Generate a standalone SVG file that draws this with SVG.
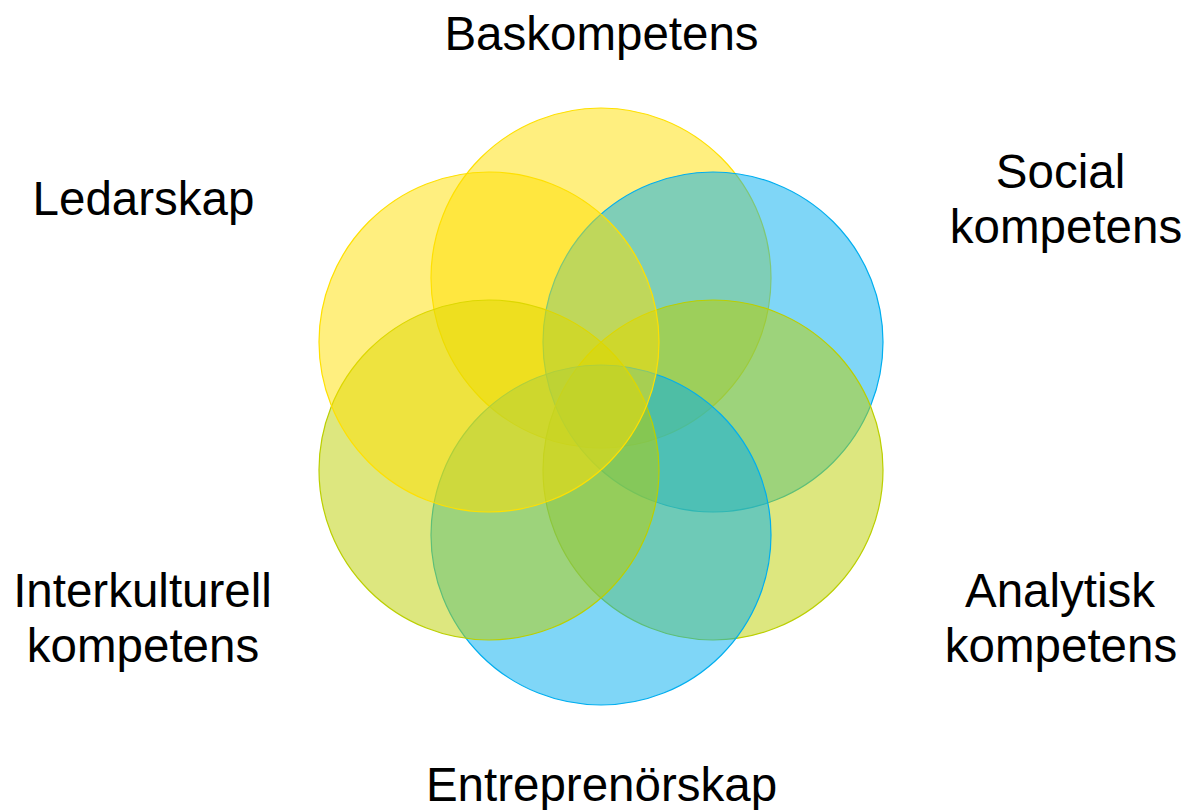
<svg xmlns="http://www.w3.org/2000/svg" width="1190" height="810" viewBox="0 0 1190 810">
<style>
.c{stroke-width:1.2}
.y{fill:rgba(255,224,0,0.5);stroke:#FFE000}
.b{fill:rgba(0,174,239,0.5);stroke:#00AEEF}
.g{fill:rgba(187,207,0,0.5);stroke:#BBCF00}
text{font-family:"Liberation Sans",Arial,sans-serif;font-size:47.5px;fill:#000;text-anchor:middle}
</style>
<rect width="1190" height="810" fill="#fff"/>
<g id="circles">
<g id="n-bas"><circle class="c y" cx="601" cy="278" r="170"/></g>
<g id="n-social"><circle class="c b" cx="713" cy="342" r="170"/></g>
<g id="n-analytisk"><circle class="c g" cx="713" cy="470" r="170"/></g>
<g id="n-entre"><circle class="c b" cx="601" cy="535" r="170"/></g>
<g id="n-inter"><circle class="c g" cx="489" cy="470" r="170"/></g>
<g id="n-ledar"><circle class="c y" cx="489" cy="342" r="170"/></g>
</g>
<g id="labels">
<text x="601.5" y="50">Baskompetens</text>
<text x="1060.5" y="188">Social</text>
<text x="1066" y="243">kompetens</text>
<text x="143.5" y="215">Ledarskap</text>
<text x="142.5" y="607">Interkulturell</text>
<text x="143" y="662">kompetens</text>
<text x="1060" y="607">Analytisk</text>
<text x="1061" y="662">kompetens</text>
<text x="601.5" y="801">Entreprenörskap</text>
</g>
<g id="connectors"/>
</svg>
